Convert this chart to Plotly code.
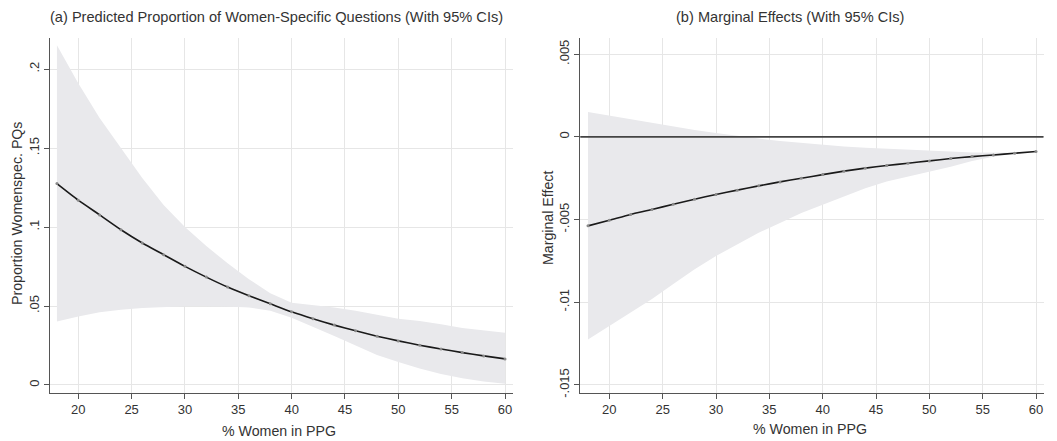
import plotly.graph_objects as go

# ---------------- data ----------------
pct_women = [18, 20, 22, 24, 26, 28, 30, 32, 34, 36, 38, 40, 42, 44, 46, 48, 50, 52, 54, 56, 58, 60]

pred_prop = [0.1275, 0.117, 0.1077, 0.0983, 0.0899, 0.0825, 0.0751, 0.0683, 0.062, 0.0565, 0.0514,
             0.0463, 0.0419, 0.0379, 0.0343, 0.0309, 0.0279, 0.0252, 0.0228, 0.0205, 0.0184, 0.0165]
pred_upper = [0.2151, 0.191, 0.169, 0.150, 0.131, 0.114, 0.100, 0.088, 0.077, 0.067, 0.058,
              0.052, 0.0505, 0.049, 0.047, 0.0445, 0.042, 0.0405, 0.0385, 0.036, 0.0345, 0.033]
pred_lower = [0.0402, 0.0434, 0.046, 0.0477, 0.0488, 0.0495, 0.0498, 0.0499, 0.0497, 0.049, 0.047,
              0.0425, 0.037, 0.031, 0.025, 0.019, 0.0145, 0.0105, 0.007, 0.0043, 0.0022, 0.0007]

marg_eff = [-0.00538, -0.00504, -0.00469, -0.00439, -0.00407, -0.00377, -0.00348, -0.00322, -0.00296,
            -0.00272, -0.0025, -0.00228, -0.00207, -0.00189, -0.00173, -0.00159, -0.00145, -0.00131,
            -0.00119, -0.00109, -0.00099, -0.00088]
marg_upper = [0.0015, 0.00128, 0.00105, 0.00083, 0.00062, 0.00042, 0.00024, 0.00006, -0.0001, -0.00025,
              -0.00037, -0.00049, -0.00058, -0.00065, -0.00072, -0.00078, -0.00084, -0.00089, -0.00094,
              -0.00097, -0.00096, -0.0009]
marg_lower = [-0.01225, -0.01145, -0.0106, -0.0098, -0.0089, -0.0080, -0.0072, -0.0065, -0.0058, -0.0052,
              -0.0046, -0.0041, -0.0036, -0.0031, -0.0027, -0.0024, -0.0021, -0.0018, -0.00145, -0.0012,
              -0.001, -0.00088]

x_ticks = [20, 25, 30, 35, 40, 45, 50, 55, 60]
y_ticks_a = [0, 0.05, 0.1, 0.15, 0.2]
y_tick_labels_a = ["0", ".05", ".1", ".15", ".2"]
y_ticks_b = [-0.015, -0.01, -0.005, 0, 0.005]
y_tick_labels_b = ["-.015", "-.01", "-.005", "0", ".005"]

title_a = "(a) Predicted Proportion of Women-Specific Questions (With 95% CIs)"
title_b = "(b) Marginal Effects (With 95% CIs)"
xlab = "% Women in PPG"
ylab_a = "Proportion Womenspec. PQs"
ylab_b = "Marginal Effect"

# ---------------- style ----------------
W, H = 1057, 441
FONT = "Liberation Sans, Arial, Helvetica, sans-serif"
TXT = "#333333"
BAND = "rgb(233,233,236)"
LINE = "#1a1a1a"
AXC = "#555555"
GRID = "#e6e6e6"


def px_x(p):
    return p / W


def px_y(p):
    return 1 - p / H


fig = go.Figure()

for xa, ya, lo, hi, mid in [("x", "y", pred_lower, pred_upper, pred_prop),
                            ("x2", "y2", marg_lower, marg_upper, marg_eff)]:
    fig.add_trace(go.Scatter(x=pct_women, y=lo, mode="lines", line=dict(width=0, color=BAND),
                             xaxis=xa, yaxis=ya, showlegend=False, hoverinfo="skip"))
    fig.add_trace(go.Scatter(x=pct_women, y=hi, mode="lines", line=dict(width=0, color=BAND),
                             fill="tonexty", fillcolor=BAND,
                             xaxis=xa, yaxis=ya, showlegend=False, hoverinfo="skip"))
    fig.add_trace(go.Scatter(x=pct_women, y=mid, mode="lines+markers",
                             line=dict(width=1.6, color=LINE, shape="spline", smoothing=0.6),
                             marker=dict(size=3, color="#8a8a8a"),
                             xaxis=xa, yaxis=ya, showlegend=False))

ydom = [px_y(392.7), px_y(37.7)]
axis_common = dict(
    showline=True, linecolor=AXC, linewidth=1.3, ticks="outside", ticklen=5, tickcolor=AXC,
    tickwidth=1, showgrid=True, gridcolor=GRID, gridwidth=1, zeroline=False,
    tickfont=dict(family=FONT, size=13, color=TXT), automargin=False, mirror=False,
)

fig.update_layout(
    width=W, height=H,
    margin=dict(l=0, r=0, t=0, b=0),
    paper_bgcolor="white", plot_bgcolor="white",
    font=dict(family=FONT, color=TXT),
    showlegend=False,
    xaxis=dict(domain=[px_x(50), px_x(512.7)], range=[17.35, 60.72], tickvals=x_ticks,
               anchor="y", **axis_common),
    yaxis=dict(domain=ydom, range=[-0.0049, 0.2199], tickvals=y_ticks_a, ticktext=y_tick_labels_a,
               tickangle=-90, anchor="x", **axis_common),
    xaxis2=dict(domain=[px_x(580.3), px_x(1043.5)], range=[17.28, 60.70], tickvals=x_ticks,
                anchor="y2", **axis_common),
    yaxis2=dict(domain=ydom, range=[-0.01547, 0.0060], tickvals=y_ticks_b, ticktext=y_tick_labels_b,
                tickangle=-90, anchor="x2", **axis_common),
)

# zero reference line in panel (b)
fig.add_shape(type="line", xref="x2 domain", x0=0, x1=1, yref="y2", y0=0, y1=0,
              line=dict(color="#444444", width=1.8), layer="above")

ann = [
    (title_a, 276.5, 17.5, 0, 14.6),
    (title_b, 790, 17.5, 0, 14.6),
    (xlab, 279, 431, 0, 14.2),
    (xlab, 810, 429, 0, 14.2),
    (ylab_a, 17, 214, -90, 14.2),
    (ylab_b, 548, 218, -90, 14.2),
]
for text, x, y, ang, fs in ann:
    fig.add_annotation(text=text, xref="paper", yref="paper", x=px_x(x), y=px_y(y),
                       xanchor="center", yanchor="middle", showarrow=False, textangle=ang,
                       font=dict(family=FONT, size=fs, color=TXT))

fig.write_html("out.html",
               config={"displayModeBar": False},
               post_script="document.body.style.margin='0';document.body.style.overflow='hidden';")
